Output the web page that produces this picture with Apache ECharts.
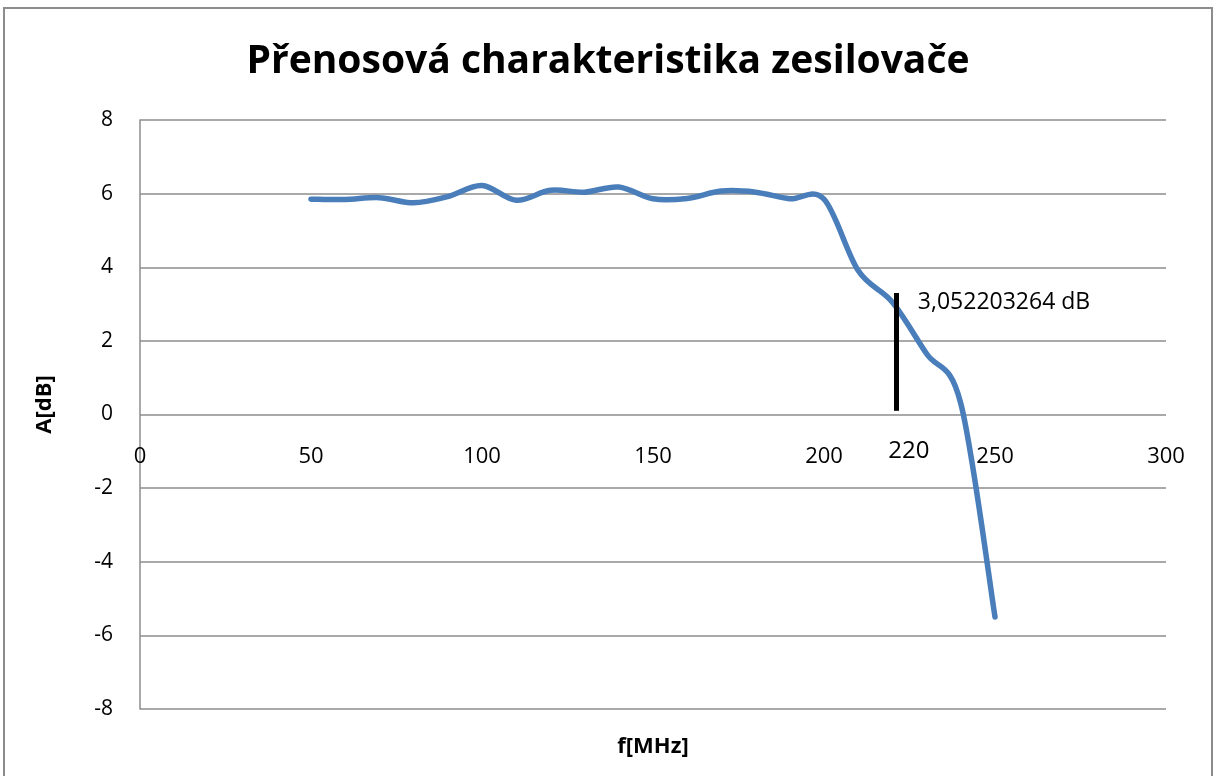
<!DOCTYPE html>
<html>
<head>
<meta charset="utf-8">
<title>Přenosová charakteristika zesilovače</title>
<script src="https://cdn.jsdelivr.net/npm/echarts@6/dist/echarts.min.js"></script>
<style>
  html, body { margin: 0; padding: 0; background: #fff; }
  #chart { width: 1216px; height: 776px; }
</style>
</head>
<body>
<div id="chart"></div>
<script>
// kmitočet [MHz] a zesílení [dB]
const freq = [50, 60, 70, 80, 90, 100, 110, 120, 130, 140, 150, 160, 170, 180, 190, 200, 210, 220, 230, 240, 250];
const gain = [5.85, 5.84, 5.89, 5.75, 5.92, 6.22, 5.82, 6.09, 6.04, 6.18, 5.86, 5.87, 6.07, 6.04, 5.86, 5.85, 3.91, 3.05, 1.65, 0.3, -5.5];
const xTicks = [0, 50, 100, 150, 200, 250, 300];
const yTicks = [-8, -6, -4, -2, 0, 2, 4, 6, 8];
// odečet na 220 MHz
const markFreq = 221;
const markText = "3,052203264 dB";
const markLabel = "220";
const markLine = [3.3, 0.1];

const font = "'Open Sans', 'Noto Sans', sans-serif";
const gridColor = "#8c8c8c";

// vyhlazená čára jako v Excelu (bezier, tečna = (další - předchozí) / 6)
function renderCurve(params, api) {
  const p = freq.map((f, i) => api.coord([f, gain[i]]));
  let d = "M" + p[0][0] + " " + p[0][1];
  for (let i = 0; i < p.length - 1; i++) {
    const a = p[i - 1] || p[i];
    const b = p[i];
    const c = p[i + 1];
    const e = p[i + 2] || p[i + 1];
    const c1 = [b[0] + (c[0] - a[0]) / 6, b[1] + (c[1] - a[1]) / 6];
    const c2 = [c[0] - (e[0] - b[0]) / 6, c[1] - (e[1] - b[1]) / 6];
    d += " C" + c1[0] + " " + c1[1] + " " + c2[0] + " " + c2[1] + " " + c[0] + " " + c[1];
  }
  return {
    type: "path",
    shape: { pathData: d },
    style: { fill: "none", stroke: "#4a7ebb", lineWidth: 5.5, lineCap: "round", lineJoin: "round" },
  };
}

let myChart = echarts.init(document.getElementById("chart"));
myChart.setOption({
  animation: false,
  textStyle: { fontFamily: font },
  title: {
    text: "Přenosová charakteristika zesilovače",
    left: "center",
    top: 37,
    textStyle: { fontSize: 39, fontWeight: "bold", color: "#000", fontFamily: font },
  },
  graphic: [
    {
      type: "rect",
      shape: { x: 4, y: 8, width: 1208, height: 800 },
      style: { fill: "none", stroke: "#8c8c8c", lineWidth: 2 },
      silent: true,
    },
  ],
  grid: { left: 140, right: 50, top: 120, bottom: 67, containLabel: false, outerBoundsMode: "none" },
  xAxis: {
    type: "value",
    min: xTicks[0],
    max: xTicks[xTicks.length - 1],
    interval: 50,
    // osa x protíná osu y v nule (Excel), posunutí ze spodního okraje
    offset: -295,
    name: "f[MHz]",
    nameLocation: "middle",
    nameGap: 322,
    nameTextStyle: { fontSize: 22, fontWeight: "bold", color: "#000" },
    axisLine: { show: false, onZero: false },
    axisTick: { show: false },
    axisLabel: { margin: 32, fontSize: 22, color: "#000" },
    splitLine: { show: false },
  },
  yAxis: {
    type: "value",
    min: yTicks[0],
    max: yTicks[yTicks.length - 1],
    interval: 2,
    name: "A[dB]",
    nameLocation: "middle",
    nameGap: 84,
    nameTextStyle: { fontSize: 22, fontWeight: "bold", color: "#000", padding: [0, 0, 0, 20] },
    axisLine: { show: true, onZero: false, lineStyle: { color: gridColor, width: 1.5 } },
    axisTick: { show: false },
    axisLabel: { margin: 27, fontSize: 21, color: "#000" },
    splitLine: { show: true, lineStyle: { color: gridColor, width: 1.5 } },
  },
  series: [
    {
      type: "custom",
      renderItem: renderCurve,
      data: [0],
      silent: true,
      markLine: {
        silent: true,
        symbol: ["none", "none"],
        label: { show: false },
        lineStyle: { color: "#000", width: 5, type: "solid" },
        data: [[{ coord: [markFreq, markLine[0]] }, { coord: [markFreq, markLine[1]] }]],
      },
      markPoint: {
        silent: true,
        symbol: "circle",
        symbolSize: 0,
        data: [
          {
            coord: [markFreq, gain[17]],
            label: {
              show: true,
              formatter: markText,
              position: "right",
              offset: [17, 0],
              fontSize: 23,
              color: "#000",
            },
          },
          {
            coord: [markFreq, 0],
            label: {
              show: true,
              formatter: markLabel,
              position: "inside",
              offset: [13, 37],
              fontSize: 24,
              color: "#000",
            },
          },
        ],
      },
    },
  ],
});
</script>
</body>
</html>
